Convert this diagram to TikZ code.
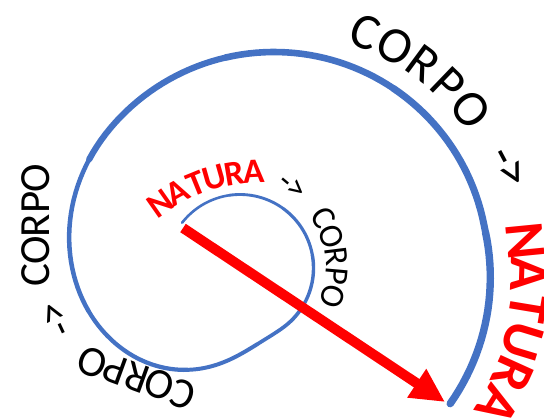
\documentclass[tikz,border=0pt]{standalone}
\usepackage{fontspec}
\setmainfont{Carlito}
\usetikzlibrary{arrows.meta}
\definecolor{SpiralBlue}{HTML}{4472C4}
\definecolor{NatRed}{HTML}{FF0000}
\definecolor{TextInk}{HTML}{000000}

\begin{document}
\begin{tikzpicture}[
    x=0.5pt,
    y=0.5pt,
    declare function={
      ramp(\t)=max(0,min(1,(-50-\t)/175));
      blend(\t)=ramp(\t)^3*(10-15*ramp(\t)+6*ramp(\t)^2);
      rout(\t)=214+0.2*max(0,-350-\t);
      spr(\t)=73.5+(rout(\t)-73.5)*blend(\t);
      sx(\t)=240+34*blend(\t)+spr(\t)*cos(\t);
      sy(\t)=150+2*blend(\t)+spr(\t)*sin(\t);
    },
    every node/.style={text=TextInk},
    spiral/.style={draw=SpiralBlue, line cap=round},
    pointer/.style={draw=NatRed, fill=NatRed, line width=5pt, -{Triangle[length=17pt, width=16pt]}},
    innerword/.style={font=\fontsize{17}{19}\selectfont, inner sep=0pt},
    innernat/.style={font=\bfseries\fontsize{17.5}{19}\selectfont, text=NatRed, inner sep=0pt},
    outerword/.style={font=\fontsize{25.5}{28}\selectfont, inner sep=0pt},
    outernat/.style={font=\bfseries\fontsize{28}{30}\selectfont, text=NatRed, inner sep=0pt},
    sideword/.style={font=\fontsize{21.5}{23}\selectfont, inner sep=0pt}
]

\useasboundingbox (0,0) rectangle (544,418);

\coordinate (inner) at (240,150);
\coordinate (outer) at (274,152);
\coordinate (arch) at (263,69);
\coordinate (origin) at (183,190);
\coordinate (tip) at (445,16);

% spiral, thin inner turn
\foreach \a [evaluate=\a as \b using \a-44, evaluate=\a as \w using 1.3+1.1*(142-\a)/352] in {142,98,...,-166}
  \draw[spiral, line width=\w pt] plot[domain=\b:\a, samples=24] ({sx(\x)},{sy(\x)});
% spiral, thick outer turn
\foreach \a [evaluate=\a as \b using \a-47, evaluate=\a as \w using 3.1+0.6*(-210-\a)/141] in {-210,-257,...,-351}
  \draw[spiral, line width=\w pt] plot[domain=\b:\a, samples=24] ({sx(\x)},{sy(\x)});

\draw[pointer] (origin) -- (tip);

% inner words
\foreach \ch [count=\i from 0, evaluate=\i as \a using 125-6.4*\i] in {N,A,T,U,R,A}
  \node[innernat, rotate=\a-90] (in\i) at ([shift={(\a:178)}]arch) {\ch};
\node[innerword, rotate=-40] (inarrow) at (292,231) {->};
\foreach \ch [count=\i from 0, evaluate=\i as \a using 31-12*\i] in {C,O,R,P,O}
  \node[innerword, rotate=\a-90] (ic\i) at ([shift={(\a:97)}]inner) {\ch};

% outer words
\foreach \ch [count=\i from 0, evaluate=\i as \a using 68.7-7.55*\i] in {C,O,R,P,O}
  \node[outerword, rotate=\a-90] (oc\i) at ([shift={(\a:251)}]outer) {\ch};
\node[outerword, rotate=-62] (outarrow) at (508,250) {->};
\foreach \ch [count=\i from 0, evaluate=\i as \a using 5.6-7.5*\i, evaluate=\i as \r using 253+2.1*\i] in {N,A,T,U,R,A}
  \node[outernat, rotate=\a-90] (on\i) at ([shift={(\a:\r)}]outer) {\ch};

% left and bottom words
\foreach \ch/\y [count=\i] in {C/143,O/168,R/192,P/216,O/240}
  \node[sideword, rotate=90] (lc\i) at (36,\y) {\ch};
\node[sideword, rotate=115] (lowarrow) at (58,99) {->};
\foreach \ch/\x/\y [count=\i] in {C/183/23,O/159/33,R/137/41,P/115/48,O/92/55}
  \node[sideword, rotate=160] (bc\i) at (\x,\y) {\ch};

\end{tikzpicture}
\end{document}
